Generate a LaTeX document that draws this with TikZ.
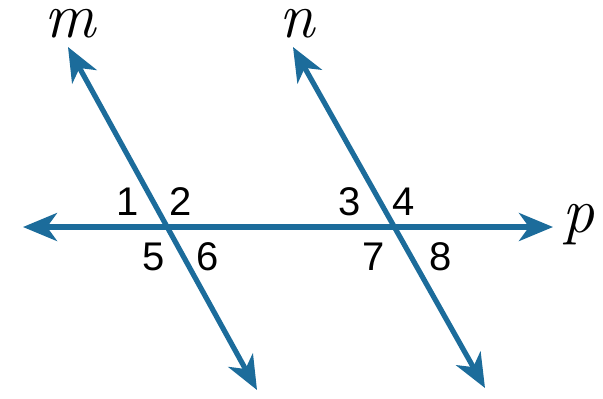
\documentclass[tikz,border=0pt]{standalone}
\usepackage{fontspec}
\setsansfont{Liberation Sans}
\usetikzlibrary{arrows.meta}
\definecolor{lineblue}{RGB}{28,108,155}

\begin{document}
\begin{tikzpicture}[
  x=0.5pt, y=-0.5pt,
  geoline/.style={{Stealth[length=17pt,width=14pt,inset=5pt]}-{Stealth[length=17pt,width=14pt,inset=5pt]}, line width=2.6pt, draw=lineblue},
  num/.style={font=\fontsize{20}{22}\selectfont\sffamily, inner sep=0pt, anchor=base},
  linelabel/.style={font=\fontsize{32}{34}\selectfont\itshape, inner sep=0pt, anchor=base}
]
\useasboundingbox (0,0) rectangle (603,398);

\coordinate (pl) at (23,227);
\coordinate (pr) at (553,227);
\coordinate (mt) at (68,47);
\coordinate (mb) at (257,390);
\coordinate (nt) at (293,47);
\coordinate (nb) at (485,388);

\draw[geoline] (pl) -- (pr);
\draw[geoline] (mt) -- (mb);
\draw[geoline] (nt) -- (nb);

\node[linelabel] (mlab) at (70,37) {m};
\node[linelabel] (nlab) at (297,37) {n};
\node[linelabel, anchor=base west] (plab) at (562,232) {p};

\node[num] (a1) at (128,215) {1};
\node[num] (a2) at (181,215) {2};
\node[num] (a3) at (350,215) {3};
\node[num] (a4) at (404,215) {4};
\node[num] (a5) at (154,270) {5};
\node[num] (a6) at (208,270) {6};
\node[num] (a7) at (374,270) {7};
\node[num] (a8) at (441,270) {8};
\end{tikzpicture}
\end{document}
